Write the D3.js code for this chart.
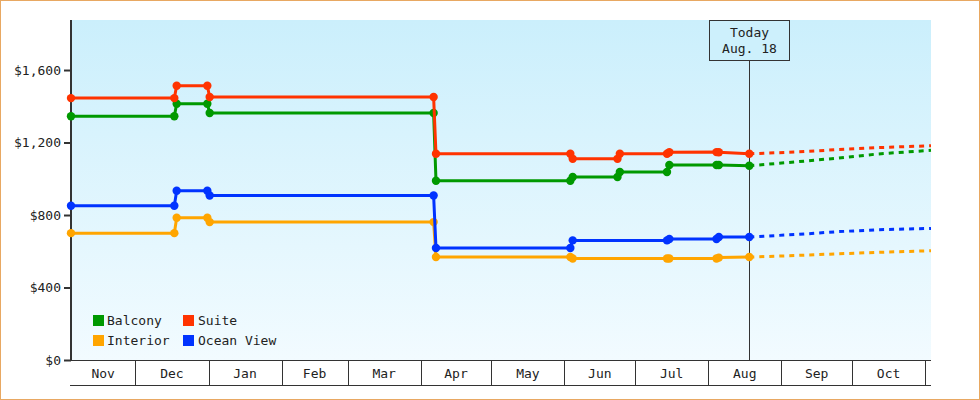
<!DOCTYPE html>
<html>
<head>
<meta charset="utf-8">
<script src="https://cdn.jsdelivr.net/npm/d3@7"></script>
<style>
  body { margin: 0; background: #fff; }
  text { font-family: "DejaVu Sans Mono", monospace; font-size: 13px; fill: #222; }
</style>
</head>
<body>
<div id="chart"></div>
<script>
// Price history, [date, price] per cabin type
const balcony = [
    ["2014-11-03T16:00", 1345], ["2014-12-17T12:00", 1345], ["2014-12-18T12:00", 1414],
    ["2014-12-31T12:00", 1414], ["2015-01-01T12:00", 1363], ["2015-04-06T12:00", 1363],
    ["2015-04-07T12:00", 989], ["2015-06-03T12:00", 989], ["2015-06-04T12:00", 1010],
    ["2015-06-23T12:00", 1010], ["2015-06-24T12:00", 1037], ["2015-07-14T12:00", 1037],
    ["2015-07-15T12:00", 1076], ["2015-08-04T12:00", 1076], ["2015-08-05T12:00", 1076],
    ["2015-08-18T10:00", 1072]
];
const suite = [
    ["2014-11-03T16:00", 1445], ["2014-12-17T12:00", 1445], ["2014-12-18T12:00", 1513],
    ["2014-12-31T12:00", 1513], ["2015-01-01T12:00", 1451], ["2015-04-06T12:00", 1451],
    ["2015-04-07T12:00", 1138], ["2015-06-03T12:00", 1138], ["2015-06-04T12:00", 1110],
    ["2015-06-23T12:00", 1110], ["2015-06-24T12:00", 1138], ["2015-07-14T12:00", 1138],
    ["2015-07-15T12:00", 1146], ["2015-08-04T12:00", 1147], ["2015-08-05T12:00", 1146],
    ["2015-08-18T10:00", 1138]
];
const interior = [
    ["2014-11-03T16:00", 700], ["2014-12-17T12:00", 700], ["2014-12-18T12:00", 785],
    ["2014-12-31T12:00", 785], ["2015-01-01T12:00", 761], ["2015-04-06T12:00", 761],
    ["2015-04-07T12:00", 568], ["2015-06-03T12:00", 568], ["2015-06-04T12:00", 560],
    ["2015-07-14T12:00", 560], ["2015-07-15T12:00", 560], ["2015-08-04T12:00", 560],
    ["2015-08-05T12:00", 565], ["2015-08-18T10:00", 568]
];
const oceanView = [
    ["2014-11-03T16:00", 851], ["2014-12-17T12:00", 851], ["2014-12-18T12:00", 934],
    ["2014-12-31T12:00", 934], ["2015-01-01T12:00", 908], ["2015-04-06T12:00", 908],
    ["2015-04-07T12:00", 618], ["2015-06-03T12:00", 618], ["2015-06-04T12:00", 660],
    ["2015-07-14T12:00", 660], ["2015-07-15T12:00", 668], ["2015-08-04T12:00", 668],
    ["2015-08-05T12:00", 679], ["2015-08-18T10:00", 679]
];

// Forecast (dashed) after today
const forecastDates = ["2015-08-18T10:00", "2015-09-08", "2015-09-25", "2015-10-12", "2015-11-03T12:00"];
const balconyForecast = [1072, 1094, 1114, 1137, 1157];
const suiteForecast = [1138, 1148, 1161, 1172, 1182];
const interiorForecast = [568, 577, 586, 594, 603];
const oceanViewForecast = [679, 693, 708, 719, 726];

const seriesNames = ["Balcony", "Suite", "Interior", "Ocean View"];
const seriesColors = ["#009900", "#ff3300", "#ffa500", "#0033ff"];
const yTicks = [0, 400, 800, 1200, 1600];
const today = "2015-08-18T10:00";
const todayLabel = ["Today", "Aug. 18"];
const domainStart = "2014-11-03T16:00";
const domainEnd = "2015-11-03T12:00";

const parse = s => new Date(s);
const history = [balcony, suite, interior, oceanView];
const forecasts = [balconyForecast, suiteForecast, interiorForecast, oceanViewForecast];

const W = 980, H = 400;
const plot = {left: 71, right: 931, top: 20, bottom: 360};

const svg = d3.select("#chart")
    .append("svg")
    .attr("width", W)
    .attr("height", H);

// outer frame
svg.append("rect")
    .attr("x", 0.5).attr("y", 0.5)
    .attr("width", W - 1).attr("height", H - 1)
    .attr("fill", "#fff")
    .attr("stroke", "#e8a862");

// background gradient
const grad = svg.append("defs").append("linearGradient")
    .attr("id", "bg").attr("x1", 0).attr("y1", 0).attr("x2", 0).attr("y2", 1);
grad.append("stop").attr("offset", "0%").attr("stop-color", "#cbeffc");
grad.append("stop").attr("offset", "100%").attr("stop-color", "#f2fbff");

svg.append("rect")
    .attr("x", plot.left + 1).attr("y", plot.top)
    .attr("width", plot.right - plot.left - 1)
    .attr("height", plot.bottom - plot.top)
    .attr("fill", "url(#bg)");

// scales
const x = d3.scaleTime()
    .domain([parse(domainStart), parse(domainEnd)])
    .range([plot.left, plot.right]);
const y = d3.scaleLinear()
    .domain([0, 1876])
    .range([plot.bottom, plot.top]);

// y axis
const yAxis = d3.axisLeft(y)
    .tickValues(yTicks)
    .tickFormat(d3.format("$,"))
    .tickSize(7)
    .tickPadding(3);

const yg = svg.append("g")
    .attr("transform", "translate(" + (plot.left) + ",0)")
    .call(yAxis);
yg.select(".domain").remove();
yg.selectAll(".tick line").attr("stroke", "#333").attr("stroke-width", 2);
yg.selectAll(".tick text")
    .attr("fill", "#222")
    .style("font-family", "DejaVu Sans Mono, monospace")
    .style("font-size", "13px");

svg.append("line")
    .attr("x1", plot.left).attr("x2", plot.left)
    .attr("y1", plot.top).attr("y2", plot.bottom)
    .attr("stroke", "#333").attr("stroke-width", 2);

// month bands under the plot
const bandBottom = 385;
const months = x.ticks(d3.timeMonth.every(1));
const edges = [x.domain()[0]].concat(months).concat([x.domain()[1]]);

svg.append("line")
    .attr("x1", plot.left - 1).attr("x2", plot.right)
    .attr("y1", plot.bottom + 0.5).attr("y2", plot.bottom + 0.5)
    .attr("stroke", "#333");
svg.append("line")
    .attr("x1", plot.left - 1).attr("x2", plot.right)
    .attr("y1", bandBottom + 0.5).attr("y2", bandBottom + 0.5)
    .attr("stroke", "#333");

svg.selectAll(".month-sep")
    .data(months)
    .enter().append("line")
    .attr("class", "month-sep")
    .attr("x1", d => Math.round(x(d)) + 0.5)
    .attr("x2", d => Math.round(x(d)) + 0.5)
    .attr("y1", plot.bottom)
    .attr("y2", bandBottom)
    .attr("stroke", "#333");

const bands = d3.pairs(edges).filter(p => x(p[1]) - x(p[0]) > 30);
svg.selectAll(".month-label")
    .data(bands)
    .enter().append("text")
    .attr("class", "month-label")
    .attr("text-anchor", "middle")
    .attr("x", d => (x(d[0]) + x(d[1])) / 2)
    .attr("y", 378)
    .text(d => d3.timeFormat("%b")(d[0].getDate() > 1 ? d3.timeMonth.floor(d[0]) : d[0]));

// today marker
const tx = Math.round(x(parse(today))) + 0.5;
svg.append("line")
    .attr("x1", tx).attr("x2", tx)
    .attr("y1", 60).attr("y2", plot.bottom)
    .attr("stroke", "#333");
svg.append("rect")
    .attr("x", tx - 40).attr("y", plot.top + 0.5)
    .attr("width", 80).attr("height", 40)
    .attr("fill", "#cdf0fc")
    .attr("stroke", "#333");
svg.selectAll(".today-label")
    .data(todayLabel)
    .enter().append("text")
    .attr("class", "today-label")
    .attr("text-anchor", "middle")
    .attr("x", tx)
    .attr("y", (d, i) => 37 + i * 16)
    .text(d => d);

// forecast lines (dashed)
const fline = d3.line()
    .x(d => x(d[0]))
    .y(d => y(d[1]));

forecasts.forEach((vals, i) => {
    const pts = forecastDates.map((d, j) => [parse(d), vals[j]]);
    svg.append("path")
        .attr("d", fline(pts))
        .attr("fill", "none")
        .attr("stroke", seriesColors[i])
        .attr("stroke-width", 3)
        .attr("stroke-dasharray", "5,5");
});

// history lines + markers
history.forEach((series, i) => {
    const pts = series.map(d => [parse(d[0]), d[1]]);
    svg.append("path")
        .attr("d", fline(pts))
        .attr("fill", "none")
        .attr("stroke", seriesColors[i])
        .attr("stroke-width", 3);

    svg.selectAll(".pt-" + i)
        .data(pts)
        .enter().append("circle")
        .attr("class", "pt-" + i)
        .attr("cx", d => x(d[0]))
        .attr("cy", d => y(d[1]))
        .attr("r", 4.2)
        .attr("fill", seriesColors[i]);
});

// legend
const legend = svg.append("g").attr("transform", "translate(93,315)");
seriesNames.forEach((name, i) => {
    const col = i % 2, row = Math.floor(i / 2);
    const g = legend.append("g")
        .attr("transform", "translate(" + (col * 90) + "," + (row * 20) + ")");
    g.append("rect")
        .attr("width", 11).attr("height", 11)
        .attr("fill", seriesColors[i]);
    g.append("text")
        .attr("x", col ? 15 : 14)
        .attr("y", 10)
        .text(name);
});
</script>
</body>
</html>
